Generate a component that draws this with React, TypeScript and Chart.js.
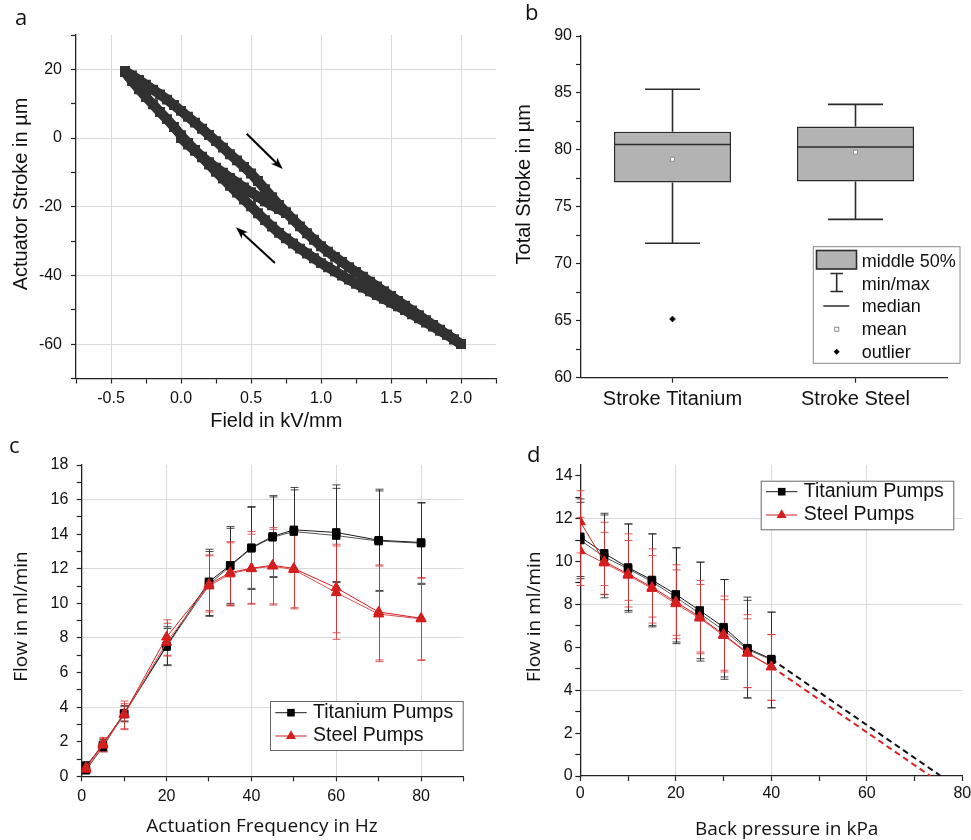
import React, { useEffect, useRef } from 'react';
import { Chart, registerables } from 'chart.js';

Chart.register(...registerables);

const SANS = '"Liberation Sans", Arial, Helvetica, sans-serif';
const HUMAN = '"Open Sans", "Liberation Sans", sans-serif';
Chart.defaults.font.family = SANS;
Chart.defaults.font.size = 16;
Chart.defaults.color = '#111';

const AXIS = '#222222';
const GRID = '#dadada';
const NONE = 'rgba(0,0,0,0)';
const MARK = '#313131';
const RED = '#d41f1f';
const RED_ERR = 'rgba(214,50,50,0.8)';
const DARK_ERR = 'rgba(40,40,40,0.85)';
const BOX_FILL = '#b3b3b3';
const BOX_LINE = '#2b2b2b';

// ---------------- panel a : hysteresis ----------------
const fieldKV = [-0.40, -0.35, -0.30, -0.25, -0.20, -0.15, -0.10, -0.05, 0.00, 0.05, 0.10, 0.15, 0.20, 0.25, 0.30, 0.35, 0.40, 0.45, 0.50, 0.55, 0.60, 0.65, 0.70, 0.75, 0.80, 0.85, 0.90, 0.95, 1.00, 1.05, 1.10, 1.15, 1.20, 1.25, 1.30, 1.35, 1.40, 1.45, 1.50, 1.55, 1.60, 1.65, 1.70, 1.75, 1.80, 1.85, 1.90, 1.95, 2.00];
const strokeUpper = [19.5, 18.2, 16.9, 15.5, 14.1, 12.7, 11.2, 9.6, 7.9, 6.2, 4.5, 2.7, 0.9, -0.9, -2.8, -4.7, -6.5, -8.4, -10.3, -12.5, -14.9, -17.2, -19.5, -21.6, -23.7, -25.7, -27.7, -29.6, -31.5, -33.1, -34.6, -36.1, -37.6, -39.0, -40.4, -41.8, -43.2, -44.6, -46.0, -47.4, -48.8, -50.2, -51.6, -53.0, -54.4, -55.8, -57.2, -58.6, -60.0];
const strokeLower = [19.2, 16.6, 14.2, 11.9, 9.8, 7.6, 5.5, 3.2, 0.8, -1.4, -3.5, -5.6, -7.7, -9.8, -11.8, -13.9, -15.9, -17.9, -19.9, -21.9, -23.9, -25.8, -27.6, -29.2, -30.7, -32.2, -33.6, -35.0, -36.4, -37.6, -38.8, -40.0, -41.2, -42.4, -43.5, -44.6, -45.7, -46.8, -47.9, -49.0, -50.1, -51.3, -52.5, -53.7, -54.9, -56.1, -57.3, -58.6, -60.0];
const fieldInitial = [0.00, 0.05, 0.10, 0.15, 0.20, 0.25, 0.30, 0.35, 0.40, 0.45, 0.50, 0.55, 0.60, 0.65, 0.70, 0.75];
const strokeInitial = [0.0, -1.9, -3.7, -5.4, -7.0, -8.6, -10.1, -11.6, -13.0, -14.4, -15.8, -17.1, -18.4, -19.6, -20.7, -21.8];
const arrowFromField = [0.469, 0.671];
const arrowFromStroke = [1.25, -36.4];
const arrowToField = [0.726, 0.393];
const arrowToStroke = [-9.03, -26.0];

// ---------------- panel b : box plot ----------------
const boxCategories = ['Stroke Titanium', 'Stroke Steel'];
const boxMin = [71.8, 73.9];
const boxQ1 = [77.13, 77.22];
const boxMedian = [80.47, 80.26];
const boxQ3 = [81.6, 82.05];
const boxMax = [85.32, 84.0];
const boxMean = [79.18, 79.8];
const boxOutlier: (number | null)[] = [65.15, null];
const boxLegendLabels = ['middle 50%', 'min/max', 'median', 'mean', 'outlier'];

// ---------------- panel c : flow vs frequency ----------------
const freqHz = [1, 5, 10, 20, 30, 35, 40, 45, 50, 60, 70, 80];
const flowTiA = [0.6, 1.8, 3.65, 7.55, 11.25, 12.2, 13.22, 13.87, 14.25, 14.1, 13.65, 13.52];
const flowTiB = [0.35, 1.7, 3.6, 7.5, 11.1, 12.15, 13.18, 13.82, 14.15, 13.92, 13.6, 13.48];
const flowSteelA = [0.5, 1.9, 3.6, 8.05, 11.1, 11.78, 12.03, 12.2, 12.02, 10.9, 9.5, 9.14];
const flowSteelB = [0.4, 1.8, 3.55, 7.75, 11.0, 11.7, 12.0, 12.15, 11.95, 10.62, 9.38, 9.1];
const flowTiALow = [0.3, 1.45, 3.15, 6.45, 9.3, 10.0, 10.87, 11.55, 11.83, 11.26, 10.74, 11.16];
const flowTiAHigh = [0.85, 2.15, 4.1, 8.65, 13.13, 14.44, 15.6, 16.23, 16.7, 16.85, 16.6, 15.83];
const flowTiBLow = [0.25, 1.5, 3.2, 6.4, 9.25, 9.9, 10.8, 11.49, 11.8, 11.2, 10.7, 11.1];
const flowTiBHigh = [0.8, 2.1, 4.05, 8.55, 13.0, 14.34, 15.55, 16.15, 16.56, 16.65, 16.5, 15.8];
const flowSteelALow = [0.25, 1.4, 2.7, 7.0, 9.58, 9.85, 10.0, 9.97, 9.75, 8.3, 6.73, 6.73];
const flowSteelAHigh = [0.75, 2.25, 4.35, 9.05, 12.8, 13.57, 14.15, 14.38, 14.3, 13.42, 12.22, 11.5];
const flowSteelBLow = [0.3, 1.45, 2.75, 6.95, 9.5, 9.9, 9.95, 9.9, 9.68, 7.92, 6.63, 6.7];
const flowSteelBHigh = [0.7, 2.2, 4.2, 8.85, 12.75, 13.5, 14.0, 14.28, 14.2, 13.32, 12.16, 11.45];

// ---------------- panel d : flow vs back pressure ----------------
const pressureKPa = [0, 5, 10, 15, 20, 25, 30, 35, 40];
const bpTiA = [11.15, 10.38, 9.72, 9.14, 8.47, 7.72, 6.94, 5.96, 5.45];
const bpTiB = [11.0, 10.22, 9.66, 9.06, 8.34, 7.58, 6.8, 5.9, 5.42];
const bpSteelA = [11.85, 10.0, 9.42, 8.8, 8.12, 7.42, 6.6, 5.75, 5.1];
const bpSteelB = [10.5, 9.93, 9.36, 8.74, 8.03, 7.36, 6.55, 5.72, 5.08];
const bpTiALow = [9.3, 8.47, 7.72, 7.02, 6.25, 5.47, 4.62, 3.64, 3.18];
const bpTiAHigh = [12.92, 12.25, 11.75, 11.29, 10.64, 9.97, 9.16, 8.34, 7.64];
const bpTiBLow = [9.2, 8.31, 7.64, 6.95, 6.17, 5.36, 4.51, 3.64, 3.18];
const bpTiBHigh = [12.76, 12.17, 11.75, 11.29, 10.64, 9.97, 9.16, 8.19, 7.64];
const bpSteelALow = [10.4, 8.88, 8.19, 7.41, 6.56, 5.78, 4.93, 4.12, 3.53];
const bpSteelAHigh = [13.3, 11.83, 11.29, 10.59, 9.85, 9.12, 8.39, 7.52, 6.59];
const bpSteelBLow = [8.88, 8.45, 7.88, 7.13, 6.4, 5.7, 4.85, 4.12, 3.53];
const bpSteelBHigh = [12.06, 11.36, 10.98, 10.28, 9.61, 8.93, 8.22, 7.33, 6.59];
const fitTiPressure = [40, 75.5];
const fitTiFlow = [5.45, 0];
const fitSteelPressure = [40, 73.3];
const fitSteelFlow = [5.1, 0];

const seriesNames = ['Titanium Pumps', 'Steel Pumps'];

// ---------------- helpers ----------------
const pts = (xs: number[], ys: (number | null)[]) => xs.map((x, i) => ({ x, y: ys[i] }));
const near = (v: number, m: number) => Math.abs(v / m - Math.round(v / m)) < 1e-6;

type AxisOpt = { min: number; max: number; step: number; label: number; grid: number; lo: number; hi: number; dec: number; pad: number; size: number; horiz: boolean };
function linAxis(o: AxisOpt): any {
  return {
    type: 'linear',
    min: o.min,
    max: o.max,
    border: { display: true, color: AXIS, width: 1.3 },
    grid: {
      color: (c: any) =>
        o.grid > 0 && c.tick && near(c.tick.value, o.grid) && c.tick.value > o.min + 1e-9 && c.tick.value < o.max - 1e-9 ? GRID : NONE,
      lineWidth: 1,
      tickColor: AXIS,
      tickLength: 5,
      tickWidth: 1.2,
    },
    ticks: {
      stepSize: o.step,
      autoSkip: false,
      includeBounds: false,
      maxRotation: 0,
      minRotation: 0,
      padding: o.pad,
      color: '#111',
      font: { size: 16 },
      callback: (v: any) => (near(v, o.label) && v >= o.lo - 1e-9 && v <= o.hi + 1e-9 ? Number(v).toFixed(o.dec) : ''),
    },
    afterFit: (s: any) => {
      if (o.horiz) s.height = o.size;
      else s.width = o.size;
    },
  };
}

type TextItem = { text: string; x: number; y: number; font: string; rotate?: boolean; align?: CanvasTextAlign; baseline?: CanvasTextBaseline };
function titles(items: TextItem[]) {
  return {
    id: 'axisTitles',
    afterDraw(chart: any) {
      const ctx: CanvasRenderingContext2D = chart.ctx;
      items.forEach((t) => {
        ctx.save();
        ctx.translate(t.x, t.y);
        if (t.rotate) ctx.rotate(-Math.PI / 2);
        ctx.font = t.font;
        ctx.fillStyle = '#111';
        ctx.textAlign = t.align || 'center';
        ctx.textBaseline = t.baseline || 'middle';
        ctx.fillText(t.text, 0, 0);
        ctx.restore();
      });
    },
  };
}

type ErrSet = { xs: number[]; lo: number[]; hi: number[]; color: string };
function errorBars(sets: ErrSet[]) {
  return {
    id: 'errorBars',
    beforeDatasetsDraw(chart: any) {
      const { ctx, scales } = chart;
      const x = scales.x;
      const y = scales.y;
      ctx.save();
      ctx.lineWidth = 1;
      sets.forEach((s) => {
        ctx.strokeStyle = s.color;
        s.xs.forEach((xv, i) => {
          const px = Math.round(x.getPixelForValue(xv)) + 0.5;
          const a = y.getPixelForValue(s.lo[i]);
          const b = y.getPixelForValue(s.hi[i]);
          ctx.beginPath();
          ctx.moveTo(px, a);
          ctx.lineTo(px, b);
          ctx.moveTo(px - 4, a);
          ctx.lineTo(px + 4, a);
          ctx.moveTo(px - 4, b);
          ctx.lineTo(px + 4, b);
          ctx.stroke();
        });
      });
      ctx.restore();
    },
  };
}

function pumpLegend(box: { x: number; y: number; w: number; h: number }, rowY: number[]) {
  return {
    id: 'pumpLegend',
    afterDraw(chart: any) {
      const ctx: CanvasRenderingContext2D = chart.ctx;
      ctx.save();
      ctx.fillStyle = '#fff';
      ctx.fillRect(box.x, box.y, box.w, box.h);
      ctx.strokeStyle = '#666';
      ctx.lineWidth = 1;
      ctx.strokeRect(box.x + 0.5, box.y + 0.5, box.w, box.h);
      seriesNames.forEach((name, i) => {
        const cy = rowY[i];
        const color = i === 0 ? '#1c1c1c' : RED;
        ctx.strokeStyle = color;
        ctx.lineWidth = 1;
        ctx.beginPath();
        ctx.moveTo(box.x + 5.3, cy);
        ctx.lineTo(box.x + 36.7, cy);
        ctx.stroke();
        const mx = box.x + 21;
        if (i === 0) {
          ctx.fillStyle = '#000';
          ctx.fillRect(mx - 3.8, cy - 3.8, 7.6, 7.6);
        } else {
          const r = 5.8;
          ctx.fillStyle = RED;
          ctx.beginPath();
          ctx.moveTo(mx, cy - r);
          ctx.lineTo(mx + r * 0.866, cy + r * 0.5);
          ctx.lineTo(mx - r * 0.866, cy + r * 0.5);
          ctx.closePath();
          ctx.fill();
        }
        ctx.fillStyle = '#111';
        ctx.font = `19.5px ${SANS}`;
        ctx.textAlign = 'left';
        ctx.textBaseline = 'alphabetic';
        ctx.fillText(name, box.x + 43, cy + 5);
      });
      ctx.restore();
    },
  };
}

const arrowsPlugin = {
  id: 'arrows',
  afterDatasetsDraw(chart: any) {
    const { ctx, scales } = chart;
    const x = scales.x;
    const y = scales.y;
    ctx.save();
    ctx.strokeStyle = '#000';
    ctx.fillStyle = '#000';
    ctx.lineWidth = 2;
    arrowFromField.forEach((_, i) => {
      const x0 = x.getPixelForValue(arrowFromField[i]);
      const y0 = y.getPixelForValue(arrowFromStroke[i]);
      const x1 = x.getPixelForValue(arrowToField[i]);
      const y1 = y.getPixelForValue(arrowToStroke[i]);
      const ang = Math.atan2(y1 - y0, x1 - x0);
      const L = 12;
      const W = 4.5;
      const c = Math.cos(ang);
      const s = Math.sin(ang);
      const bx = x1 - L * c;
      const by = y1 - L * s;
      ctx.beginPath();
      ctx.moveTo(x0, y0);
      ctx.lineTo(x1 - 7 * c, y1 - 7 * s);
      ctx.stroke();
      ctx.beginPath();
      ctx.moveTo(x1, y1);
      ctx.lineTo(bx + W * s, by - W * c);
      ctx.lineTo(x1 - 0.72 * L * c, y1 - 0.72 * L * s);
      ctx.lineTo(bx - W * s, by + W * c);
      ctx.closePath();
      ctx.fill();
    });
    ctx.restore();
  },
};

const boxPlugin = {
  id: 'boxWhiskers',
  afterDatasetsDraw(chart: any) {
    const { ctx, scales } = chart;
    const x = scales.x;
    const y = scales.y;
    const meta = chart.getDatasetMeta(0);
    ctx.save();
    ctx.strokeStyle = BOX_LINE;
    ctx.lineWidth = 1.6;
    boxCategories.forEach((_, i) => {
      const bar: any = meta.data[i];
      const w = bar.getProps(['width'], true).width;
      const cx = x.getPixelForValue(i);
      const cap = w * 0.235;
      const yMin = y.getPixelForValue(boxMin[i]);
      const yMax = y.getPixelForValue(boxMax[i]);
      const yQ1 = y.getPixelForValue(boxQ1[i]);
      const yQ3 = y.getPixelForValue(boxQ3[i]);
      const yMed = y.getPixelForValue(boxMedian[i]);
      ctx.beginPath();
      ctx.moveTo(cx, yQ3);
      ctx.lineTo(cx, yMax);
      ctx.moveTo(cx - cap, yMax);
      ctx.lineTo(cx + cap, yMax);
      ctx.moveTo(cx, yQ1);
      ctx.lineTo(cx, yMin);
      ctx.moveTo(cx - cap, yMin);
      ctx.lineTo(cx + cap, yMin);
      ctx.moveTo(cx - w / 2, yMed);
      ctx.lineTo(cx + w / 2, yMed);
      ctx.stroke();
    });
    ctx.restore();
  },
};

const boxLegendPlugin = {
  id: 'boxLegend',
  afterDraw(chart: any) {
    const ctx: CanvasRenderingContext2D = chart.ctx;
    const L = 323.3;
    const T = 246.7;
    const R = 470;
    const B = 363.3;
    ctx.save();
    ctx.fillStyle = '#fff';
    ctx.fillRect(L, T, R - L, B - T);
    ctx.strokeStyle = '#8a8a8a';
    ctx.lineWidth = 1;
    ctx.strokeRect(L, T, R - L, B - T);
    const cx = 346.7;
    ctx.fillStyle = BOX_FILL;
    ctx.fillRect(326.5, 250.5, 40, 18.5);
    ctx.strokeStyle = BOX_LINE;
    ctx.lineWidth = 1.6;
    ctx.strokeRect(326.5, 250.5, 40, 18.5);
    ctx.beginPath();
    ctx.moveTo(cx, 273.5);
    ctx.lineTo(cx, 291.5);
    ctx.moveTo(cx - 6.3, 273.5);
    ctx.lineTo(cx + 6.3, 273.5);
    ctx.moveTo(cx - 6.3, 291.5);
    ctx.lineTo(cx + 6.3, 291.5);
    ctx.moveTo(333.3, 306);
    ctx.lineTo(359.3, 306);
    ctx.stroke();
    ctx.fillStyle = '#fff';
    ctx.fillRect(cx - 2, 327.3, 4, 4);
    ctx.strokeStyle = '#8c8c8c';
    ctx.lineWidth = 1;
    ctx.strokeRect(cx - 2, 327.3, 4, 4);
    ctx.fillStyle = '#000';
    ctx.beginPath();
    ctx.moveTo(cx, 348.7);
    ctx.lineTo(cx + 3, 351.7);
    ctx.lineTo(cx, 354.7);
    ctx.lineTo(cx - 3, 351.7);
    ctx.closePath();
    ctx.fill();
    ctx.fillStyle = '#111';
    ctx.font = `18px ${SANS}`;
    ctx.textAlign = 'left';
    ctx.textBaseline = 'alphabetic';
    const base = [266.5, 289.5, 312.2, 334.8, 357.8];
    boxLegendLabels.forEach((t, i) => ctx.fillText(t, 371.7, base[i]));
    ctx.restore();
  },
};

const baseOptions = {
  animation: false as const,
  responsive: false,
  events: [] as any[],
};

const band = (xs: number[], ys: number[]) => ({
  data: pts(xs, ys),
  showLine: true,
  borderColor: MARK,
  borderWidth: 10,
  pointStyle: 'rect',
  pointRadius: 7,
  pointBackgroundColor: MARK,
  pointBorderColor: MARK,
  pointBorderWidth: 0,
});

function pumpSet(xs: number[], ys: number[], kind: 'ti' | 'steel', alt: boolean): any {
  const ti = kind === 'ti';
  return {
    data: pts(xs, ys),
    showLine: true,
    borderColor: ti ? (alt ? '#555' : '#1a1a1a') : alt ? '#e05050' : RED,
    borderWidth: 1,
    pointStyle: ti ? 'rect' : 'triangle',
    pointRadius: ti ? 5.3 : 5.8,
    pointBackgroundColor: ti ? '#000' : RED,
    pointBorderColor: ti ? '#000' : RED,
    pointBorderWidth: 1,
  };
}

function makeA(canvas: HTMLCanvasElement) {
  return new Chart(canvas, {
    type: 'scatter',
    data: {
      datasets: [band(fieldKV, strokeUpper), band(fieldKV, strokeLower), band(fieldInitial, strokeInitial)] as any,
    },
    options: {
      ...baseOptions,
      layout: { padding: { left: 0, top: 35, right: 24, bottom: 0 } },
      plugins: { legend: { display: false }, tooltip: { enabled: false } },
      scales: {
        x: linAxis({ min: -0.75, max: 2.25, step: 0.25, label: 0.5, grid: 0.5, lo: -0.5, hi: 2.0, dec: 1, pad: 5, size: 61.5, horiz: true }),
        y: linAxis({ min: -70, max: 30, step: 10, label: 20, grid: 20, lo: -60, hi: 20, dec: 0, pad: 9, size: 76, horiz: false }),
      },
    } as any,
    plugins: [
      arrowsPlugin,
      titles([
        { text: 'Field in kV/mm', x: 276.3, y: 421, font: `20px ${SANS}` },
        { text: 'Actuator Stroke in µm', x: 21, y: 194, font: `20px ${SANS}`, rotate: true },
        { text: 'a', x: 15, y: 25, font: `22px ${HUMAN}`, align: 'left', baseline: 'alphabetic' },
      ]),
    ] as any,
  });
}

function makeB(canvas: HTMLCanvasElement) {
  return new Chart(canvas, {
    type: 'bar',
    data: {
      labels: boxCategories,
      datasets: [
        {
          type: 'bar',
          data: boxCategories.map((_, i) => [boxQ1[i], boxQ3[i]]),
          backgroundColor: BOX_FILL,
          borderColor: BOX_LINE,
          borderWidth: 1.6,
          borderSkipped: false,
          barPercentage: 0.64,
          categoryPercentage: 1,
          order: 3,
        },
        {
          type: 'line',
          data: boxMean,
          showLine: false,
          pointStyle: 'rect',
          pointRadius: 2.8,
          pointBackgroundColor: '#fff',
          pointBorderColor: '#8c8c8c',
          pointBorderWidth: 1,
          order: 1,
        },
        {
          type: 'line',
          data: boxOutlier,
          showLine: false,
          pointStyle: 'rectRot',
          pointRadius: 3,
          pointBackgroundColor: '#000',
          pointBorderColor: '#000',
          pointBorderWidth: 0.5,
          order: 0,
        },
      ] as any,
    },
    options: {
      ...baseOptions,
      layout: { padding: { left: 0, top: 36, right: 43, bottom: 0 } },
      plugins: { legend: { display: false }, tooltip: { enabled: false } },
      scales: {
        x: {
          type: 'category',
          offset: true,
          border: { display: true, color: AXIS, width: 1.3 },
          grid: { offset: false, drawOnChartArea: false, tickColor: AXIS, tickLength: 5, tickWidth: 1.2 },
          ticks: { font: { size: 20 }, padding: 5, maxRotation: 0, autoSkip: false, color: '#111' },
          afterFit: (s: any) => {
            s.height = 62.3;
          },
        },
        y: linAxis({ min: 60, max: 90, step: 2.5, label: 5, grid: 0, lo: 60, hi: 90, dec: 0, pad: 4, size: 91, horiz: false }),
      },
    } as any,
    plugins: [
      boxPlugin,
      boxLegendPlugin,
      titles([
        { text: 'Total Stroke in µm', x: 34.8, y: 184.2, font: `20px ${SANS}`, rotate: true },
        { text: 'b', x: 35, y: 20, font: `22px ${HUMAN}`, align: 'left', baseline: 'alphabetic' },
      ]),
    ] as any,
  });
}

function makeC(canvas: HTMLCanvasElement) {
  return new Chart(canvas, {
    type: 'scatter',
    data: {
      datasets: [
        pumpSet(freqHz, flowSteelA, 'steel', false),
        pumpSet(freqHz, flowSteelB, 'steel', true),
        pumpSet(freqHz, flowTiA, 'ti', false),
        pumpSet(freqHz, flowTiB, 'ti', true),
      ],
    },
    options: {
      ...baseOptions,
      layout: { padding: { left: 0, top: 45, right: 26.5, bottom: 0 } },
      plugins: { legend: { display: false }, tooltip: { enabled: false } },
      scales: {
        x: linAxis({ min: 0, max: 90, step: 10, label: 20, grid: 20, lo: 0, hi: 80, dec: 0, pad: 5.6, size: 83.7, horiz: true }),
        y: linAxis({ min: 0, max: 18, step: 1, label: 2, grid: 4, lo: 0, hi: 18, dec: 0, pad: 8.4, size: 81.7, horiz: false }),
      },
    } as any,
    plugins: [
      errorBars([
        { xs: freqHz, lo: flowTiALow, hi: flowTiAHigh, color: DARK_ERR },
        { xs: freqHz, lo: flowTiBLow, hi: flowTiBHigh, color: DARK_ERR },
        { xs: freqHz, lo: flowSteelALow, hi: flowSteelAHigh, color: RED_ERR },
        { xs: freqHz, lo: flowSteelBLow, hi: flowSteelBHigh, color: RED_ERR },
      ]),
      pumpLegend({ x: 270, y: 281, w: 192.7, h: 49 }, [292.7, 316]),
      titles([
        { text: 'Actuation Frequency in Hz', x: 262, y: 406.2, font: `19px ${HUMAN}` },
        { text: 'Flow in ml/min', x: 21.3, y: 196.5, font: `19px ${HUMAN}`, rotate: true },
        { text: 'c', x: 9, y: 33, font: `22px ${HUMAN}`, align: 'left', baseline: 'alphabetic' },
      ]),
    ] as any,
  });
}

function makeD(canvas: HTMLCanvasElement) {
  const fit = (xs: number[], ys: number[], color: string): any => ({
    data: pts(xs, ys),
    showLine: true,
    borderColor: color,
    borderWidth: 2,
    borderDash: [6, 4],
    pointRadius: 0,
  });
  return new Chart(canvas, {
    type: 'scatter',
    data: {
      datasets: [
        pumpSet(pressureKPa, bpSteelA, 'steel', false),
        pumpSet(pressureKPa, bpSteelB, 'steel', true),
        pumpSet(pressureKPa, bpTiA, 'ti', false),
        pumpSet(pressureKPa, bpTiB, 'ti', true),
        fit(fitTiPressure, fitTiFlow, '#111'),
        fit(fitSteelPressure, fitSteelFlow, '#e02020'),
      ],
    },
    options: {
      ...baseOptions,
      layout: { padding: { left: 0, top: 45, right: 27.7, bottom: 0 } },
      plugins: { legend: { display: false }, tooltip: { enabled: false } },
      scales: {
        x: linAxis({ min: 0, max: 80, step: 10, label: 20, grid: 20, lo: 0, hi: 80, dec: 0, pad: 2.6, size: 84, horiz: true }),
        y: linAxis({ min: 0, max: 14.5, step: 1, label: 2, grid: 4, lo: 0, hi: 14, dec: 0, pad: 2.6, size: 90.3, horiz: false }),
      },
    } as any,
    plugins: [
      errorBars([
        { xs: pressureKPa, lo: bpTiALow, hi: bpTiAHigh, color: DARK_ERR },
        { xs: pressureKPa, lo: bpTiBLow, hi: bpTiBHigh, color: DARK_ERR },
        { xs: pressureKPa, lo: bpSteelALow, hi: bpSteelAHigh, color: RED_ERR },
        { xs: pressureKPa, lo: bpSteelBLow, hi: bpSteelBHigh, color: RED_ERR },
      ]),
      pumpLegend({ x: 270.7, y: 60.7, w: 192.6, h: 48.6 }, [71.7, 95]),
      titles([
        { text: 'Back pressure in kPa', x: 296.7, y: 409.9, font: `19px ${HUMAN}` },
        { text: 'Flow in ml/min', x: 44.6, y: 196.7, font: `19px ${HUMAN}`, rotate: true },
        { text: 'd', x: 37, y: 42, font: `22px ${HUMAN}`, align: 'left', baseline: 'alphabetic' },
      ]),
    ] as any,
  });
}

function ChartCanvas(props: { left: number; top: number; width: number; height: number; make: (c: HTMLCanvasElement) => Chart }) {
  const ref = useRef<HTMLCanvasElement>(null);
  useEffect(() => {
    const chart = props.make(ref.current as HTMLCanvasElement);
    return () => chart.destroy();
  }, []);
  return (
    <canvas
      ref={ref}
      width={props.width}
      height={props.height}
      style={{ position: 'absolute', left: props.left, top: props.top, width: props.width, height: props.height }}
    />
  );
}

export default function App() {
  return (
    <div style={{ position: 'absolute', left: 0, top: 0, width: 971, height: 840, overflow: 'hidden', background: '#fff' }}>
      <ChartCanvas left={0} top={0} width={520} height={440} make={makeA} />
      <ChartCanvas left={490} top={0} width={500} height={440} make={makeB} />
      <ChartCanvas left={0} top={420} width={490} height={440} make={makeC} />
      <ChartCanvas left={490} top={420} width={500} height={440} make={makeD} />
    </div>
  );
}
